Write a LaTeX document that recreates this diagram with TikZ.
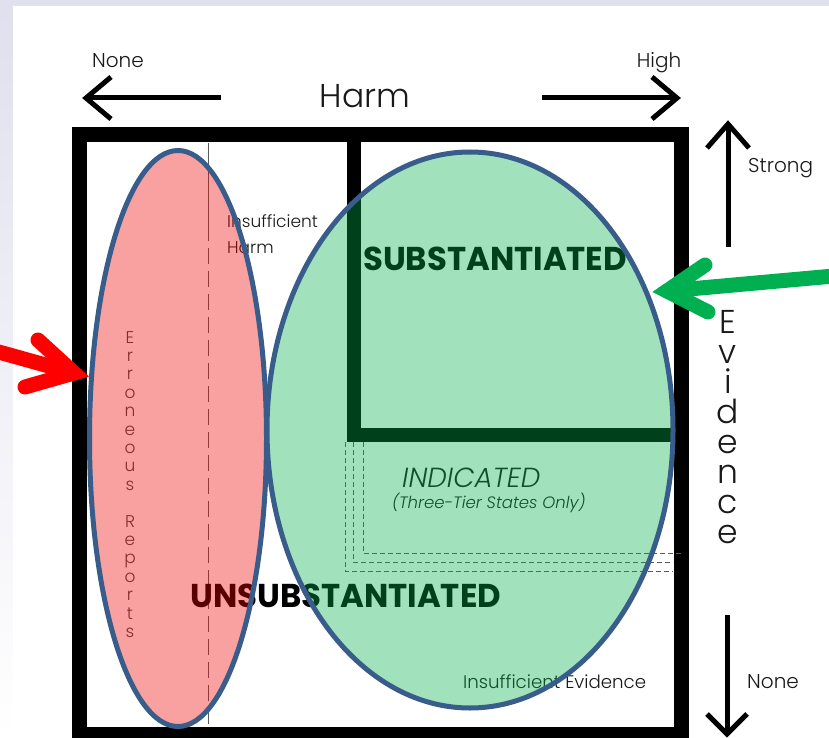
\documentclass[tikz,border=0pt]{standalone}
\usepackage{fontspec}
\setmainfont{Poppins}
\newfontfamily\lightfont{Poppins Light}
\usetikzlibrary{shapes.geometric}
\definecolor{ellblue}{RGB}{56,93,138}
\definecolor{redfill}{RGB}{241,0,0}
\definecolor{greenfill}{RGB}{0,175,75}
\definecolor{arrowgreen}{RGB}{0,176,80}
\definecolor{arrowred}{RGB}{255,0,0}
\definecolor{bglav}{RGB}{224,224,238}
\definecolor{ink}{RGB}{25,25,25}
\definecolor{thin}{RGB}{90,90,90}
\begin{document}
\begin{tikzpicture}[x=1pt,y=-1pt,
  lbl/.style={font=\lightfont\fontsize{20}{24}\selectfont, text=ink, inner sep=0},
  small/.style={font=\lightfont\fontsize{17}{20}\selectfont, text=ink, inner sep=0},
  big/.style={font=\lightfont\fontsize{33}{36}\selectfont, text=ink, inner sep=0},
  heavy/.style={font=\fontsize{33}{36}\selectfont\bfseries, text=black, inner sep=0},
  vletter/.style={font=\lightfont\fontsize{17}{20}\selectfont, text=ink!80, inner sep=0, anchor=base},
  axisline/.style={line width=5pt, draw=black},
  axishead/.style={line width=5pt, draw=black, line join=miter},
  frame/.style={line width=15pt, draw=black, line join=miter},
  divider/.style={line width=14pt, draw=black, line join=miter},
  dashthin/.style={draw=thin, line width=0.8pt, dash pattern=on 5pt off 3pt},
  blob/.style={ellipse, draw=ellblue, line width=5pt, fill opacity=0.37, inner sep=0},
  pointer/.style={line width=15pt, line cap=round, line join=miter}
]
\useasboundingbox (0,0) rectangle (829,738);
% background
\fill[top color=bglav, bottom color=white] (0,0) rectangle (829,738);
\fill[white] (13,6) rectangle (829,738);

% frame and dividers
\draw[frame] (79,135) rectangle (681,734.5);
\draw[divider] (354,135) -- (354,435) -- (681,435);
\draw[draw=thin, line width=0.8pt] (208,143) -- (208,225);
\draw[draw=thin, line width=0.8pt, dash pattern=on 16pt off 7pt] (208,225) -- (208,727);
\draw[dashthin] (363,442) -- (363,553) -- (681,553);
\draw[dashthin] (353,442) -- (353,562) -- (673,562);
\draw[dashthin] (345,442) -- (345,571) -- (673,571);

% axis arrows
\coordinate (harmL) at (86,98);
\coordinate (harmLend) at (221,98);
\coordinate (harmR) at (677,98);
\coordinate (harmRend) at (542,98);
\draw[axisline] (harmLend) -- (harmL);
\draw[axishead] (harmL) ++(25,-21) -- (harmL) -- ++(25,21);
\draw[axisline] (harmRend) -- (harmR);
\draw[axishead] (harmR) ++(-25,-21) -- (harmR) -- ++(-25,21);
\coordinate (evUp) at (728,124);
\coordinate (evUpend) at (728,247);
\coordinate (evDn) at (727,734);
\coordinate (evDnend) at (727,615);
\draw[axisline] (evUpend) -- (evUp);
\draw[axishead] (evUp) ++(-21,24) -- (evUp) -- ++(21,24);
\draw[axisline] (evDnend) -- (evDn);
\draw[axishead] (evDn) ++(-20,-20) -- (evDn) -- ++(20,-20);

% axis labels
\node[lbl, anchor=base] (none1) at (118,68) {None};
\node[lbl, anchor=base] (high) at (659,68) {High};
\node[big, anchor=base] (harm) at (365,108) {Harm};
\node[lbl, anchor=base west] (strong) at (748,172) {Strong};
\node[lbl, anchor=base west] (none2) at (747,688) {None};
\foreach \ch [count=\k from 0] in {E,v,i,d,e,n,c,e}
  \node[big, anchor=base] (ev\k) at (728,{333+30*\k}) {\ch};

% texts under the ellipses
\node[small, anchor=base west] (insh1) at (227,227) {Insufficient};
\node[small, font=\lightfont\fontsize{18.2}{22}\selectfont, anchor=base west] (inse) at (463,688) {Insufficient Evidence};
\node[small, anchor=base west] (insh2) at (227,253) {Harm};
\node[heavy, anchor=base west] (subst) at (363,270) {\scalebox{0.98}[1]{SUBSTANTIATED}};
\node[heavy, anchor=base west] (unsubst) at (190,607) {\scalebox{0.98}[1]{UNSUBSTANTIATED}};
\node[font=\lightfont\fontsize{27.6}{30}\selectfont\itshape, text=ink, inner sep=0, anchor=base west] (ind) at (402,487) {INDICATED};
\node[font=\lightfont\fontsize{16.5}{19}\selectfont\itshape, text=ink, inner sep=0, anchor=base west] (tier) at (392,508) {(Three-Tier States Only)};
\foreach \ch [count=\k from 0] in {E,r,r,o,n,e,o,u,s,{},R,e,p,o,r,t,s}
  \node[vletter] (er\k) at (130,{343+18.4*\k}) {\ch};

% ellipses
\node[blob, fill=redfill, minimum width=177pt, minimum height=576pt] (erroneous) at (178,438.5) {};
\node[blob, fill=greenfill, minimum width=406pt, minimum height=556pt] (substantiated) at (470,430) {};

% pointer arrows
\coordinate (rtail) at (-12,349);
\coordinate (rtip) at (74,373);
\draw[pointer, draw=arrowred] (rtail) -- (rtip);
\draw[pointer, draw=arrowred] (38,340) -- (rtip) -- (25,387);
\coordinate (gtail) at (845,275);
\coordinate (gtip) at (667,291);
\draw[pointer, draw=arrowgreen] (gtail) -- (gtip);
\draw[pointer, draw=arrowgreen] (705,265) -- (gtip) -- (708,312);
\end{tikzpicture}
\end{document}
